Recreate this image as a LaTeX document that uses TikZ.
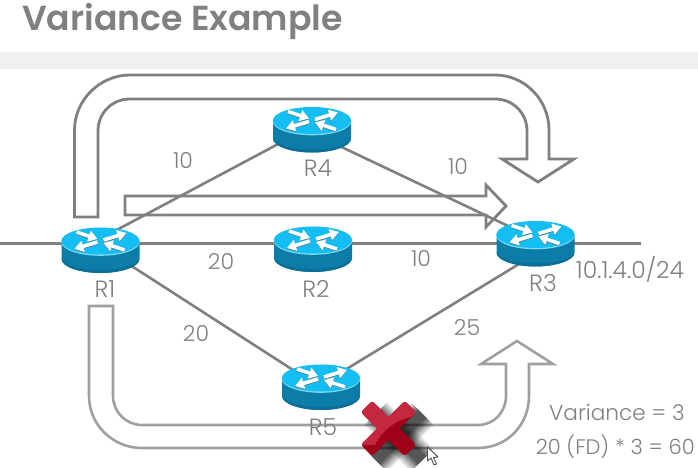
\documentclass[tikz,border=0pt]{standalone}
\usepackage{fontspec}
\setmainfont{Poppins}[UprightFont=* Light,BoldFont=* SemiBold]
\usetikzlibrary{arrows.meta,calc}
\definecolor{linkgray}{HTML}{808080}
\definecolor{armgray}{HTML}{A0A0A0}
\definecolor{txtgray}{HTML}{808080}
\definecolor{routertop}{HTML}{14BDF2}
\definecolor{routerside}{HTML}{0C7DA8}
\definecolor{routerdark}{HTML}{0A6E96}
\definecolor{xlight}{HTML}{C42840}
\definecolor{xdark}{HTML}{A00018}
\tikzset{
  x=1pt,y=-1pt,
  link/.style={draw=linkgray,line width=2.6pt},
  bigarrow/.style={draw=linkgray,line width=2.8pt,line join=miter},
  softarrow/.style={draw=armgray,line width=2.6pt,line join=miter},
  lbl/.style={text=txtgray,font=\fontsize{22}{26}\selectfont,inner sep=0pt},
  rlbl/.style={text=txtgray,font=\fontsize{23.5}{27}\selectfont,inner sep=0pt},
  netlbl/.style={text=txtgray,font=\fontsize{23.5}{27}\selectfont,inner sep=0pt},
  flowdir/.style={white,line width=3.6pt,-{Triangle[length=9pt,width=11pt]}},
  flowshadow/.style={black!60,line width=3.6pt,-{Triangle[length=9pt,width=11pt]}},
  routerpic/.pic={
    \fill[routerside] (-39,0) -- (-39,18) .. controls (-39,26) and (-20,32) .. (0,32)
       .. controls (20,32) and (39,26) .. (39,18) -- (39,0) -- cycle;
    \fill[routerdark] (-39,18) .. controls (-39,26) and (-20,32) .. (0,32)
       .. controls (20,32) and (39,26) .. (39,18) .. controls (36,24) and (20,29) .. (0,29)
       .. controls (-20,29) and (-36,24) .. (-39,18) -- cycle;
    \fill[routertop!55!white] (0,0.8) ellipse [x radius=39.3,y radius=14];
    \fill[routertop] (0,0) ellipse [x radius=39,y radius=13.5];
    \foreach \ax/\ay/\bx/\by in {-24/-9/-3/-2, 3/-1/26/-8, -3/1/-26/8, 24/9/3/2}{
      \draw[flowshadow] (\ax,\ay+0.6) -- (\bx,\by+0.6);
      \draw[flowdir] (\ax,\ay) -- (\bx,\by);
    }
  },
  crossarm/.style={rounded corners=2.5pt},
}
\begin{document}
\begin{tikzpicture}
\useasboundingbox (0,0) rectangle (698,468);
\fill[white] (0,0) rectangle (698,468);
\fill[black!6] (0,52) rectangle (698,69);
\node[text=txtgray,font=\fontsize{34.7}{40}\selectfont\bfseries,anchor=base west,inner sep=0pt] (title) at (22,31) {Variance Example};

% positions
\coordinate (R1) at (100.5,241);
\coordinate (R2) at (313,240);
\coordinate (R3) at (535.5,234.5);
\coordinate (R4) at (312,120.5);
\coordinate (R5) at (321,378);
\coordinate (W) at (0,243.5);
\coordinate (E) at (641,243.5);

% links
\draw[link] (W) -- (W -| R1) (R1 |- W) -- (R2 |- W) (R2 |- W) -- (R3 |- W) (R3 |- W) -- (E);
\draw[link] ($(R1)+(0,-2.4)$) -- ($(R4)+(0,5.5)$);
\draw[link] ($(R4)+(0,12.5)$) -- ($(R3)+(0,4.5)$);
\draw[link] ($(R1)+(0,5)$) -- ($(R5)+(0,10)$);
\draw[link] ($(R5)+(0,6.5)$) -- ($(R3)+(0,19.5)$);

% flow arrows
\draw[bigarrow] (74.5,217) -- (74.5,130) .. controls (74.5,100) and (100,75) .. (130,75) -- (495,75)
  .. controls (525,75) and (549,100) .. (549,130) -- (549,159) -- (574,159) -- (538,182) -- (502,159)
  -- (527,159) -- (527,131) .. controls (527,113) and (513,99) .. (495,99) -- (130,99)
  .. controls (112,99) and (98,113) .. (98,131) -- (98,217) -- cycle;
\draw[bigarrow] (125,196) -- (486,196) -- (486,185) -- (506,206) -- (486,227) -- (486,215) -- (125,215) -- cycle;
\draw[softarrow] (89,306) -- (89,396) .. controls (89,425) and (113,448) .. (142,448) -- (478,448)
  .. controls (507,448) and (529,425) .. (529,396) -- (529,364) -- (553,364) -- (517,341) -- (481,364)
  -- (506,364) -- (506,396) .. controls (506,412) and (494,425) .. (478,425) -- (142,425)
  .. controls (126,425) and (113,412) .. (113,396) -- (113,306) -- cycle;

% routers
\path (R1) pic {routerpic};
\path (R2) pic {routerpic};
\path (R3) pic {routerpic};
\path (R4) pic {routerpic};
\path (R5) pic {routerpic};

% labels
\node[rlbl] (lR1) at (105,289) {R1};
\node[rlbl] (lR2) at (316,289) {R2};
\node[rlbl] (lR3) at (543,283) {R3};
\node[rlbl] (lR4) at (318,168) {R4};
\node[rlbl] (lR5) at (323,427) {R5};
\node[lbl] (c14) at (183,161) {10};
\node[lbl] (c43) at (458,167) {10};
\node[lbl] (c12) at (221,262) {20};
\node[lbl] (c23) at (421,259) {10};
\node[lbl] (c15) at (196,333) {20};
\node[lbl] (c53) at (467,328) {25};
\node[netlbl] (net) at (630,269) {10.1.4.0/24};
\node[lbl,font=\fontsize{21.6}{26}\selectfont,anchor=base east] (var) at (685,420) {Variance = 3};
\node[lbl,font=\fontsize{21}{25}\selectfont,anchor=base east] (calc) at (695,454) {20 (FD) * 3 = 60};

% red cross with soft shadow
\foreach \w/\o in {32/.10,28/.12,24/.14,20/.16,16/.20,12/.25}{
  \fill[black,opacity=\o,rotate around={45:(399,437)}] (399-33,437-\w/2) rectangle (399+33,437+\w/2);
  \fill[black,opacity=\o,rotate around={-45:(399,437)}] (399-33,437-\w/2) rectangle (399+33,437+\w/2);
}
\fill[xdark,crossarm,rotate around={45:(388.5,428.5)}] (357.5,420.5) rectangle (419.5,436.5);
\fill[xdark,crossarm,rotate around={-45:(388.5,428.5)}] (357.5,420.5) rectangle (419.5,436.5);
\begin{scope}
  \clip (355,395) -- (422,395) -- (422,415) .. controls (400,418) and (385,425) .. (375,445) -- (355,445) -- cycle;
  \fill[xlight,crossarm,rotate around={45:(388.5,428.5)}] (357.5,420.5) rectangle (419.5,436.5);
  \fill[xlight,crossarm,rotate around={-45:(388.5,428.5)}] (357.5,420.5) rectangle (419.5,436.5);
\end{scope}
% pointer
\draw[fill=white,draw=black!70,line width=0.9pt,line join=round] (427.5,447) -- (427.5,461) -- (431,458) -- (434,465) -- (436.5,464) -- (433.5,457.5) -- (438,457) -- cycle;
\end{tikzpicture}
\end{document}
